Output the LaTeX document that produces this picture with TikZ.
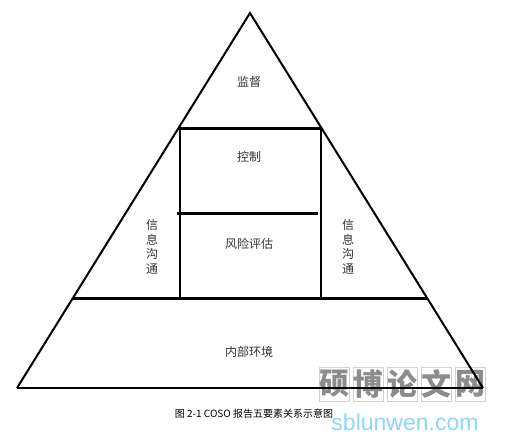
\documentclass[tikz,border=0pt]{standalone}
\usepackage{fontspec}
\setmainfont{Liberation Sans}
\newfontfamily\cjk{Noto Sans CJK SC}
\begin{document}
\begin{tikzpicture}[x=1pt,y=-1pt,
  edge/.style={line width=2pt,black},
  thick edge/.style={line width=3pt,black},
  lbl/.style={font=\cjk\fontsize{12}{14}\selectfont,text=black!80,inner sep=0pt},
  vlbl/.style={font=\cjk\fontsize{12}{14.5}\selectfont,text=black!80,align=center,inner sep=0pt},
  captxt/.style={font=\cjk\fontsize{10}{12}\selectfont,inner sep=0pt},
  wm/.style={font=\cjk\bfseries\fontsize{30}{30}\selectfont,text=black!45,draw=black!18,line width=0.6pt,minimum width=30pt,minimum height=34pt,inner sep=0pt}]
\useasboundingbox (0,0) rectangle (507,440);
% watermark (behind the lines)
\foreach \c [count=\i] in {硕,博,论,文,网}
  \node[wm] (w\i) at ({300+\i*34},384) {\c};
\node[font=\fontsize{23}{23}\selectfont,text=blue!35!cyan!45,inner sep=0pt] (wurl) at (405,422) {sblunwen.com};
% triangle
\coordinate (A) at (250,13);
\coordinate (BL) at (17,388);
\coordinate (BR) at (483,388);
\coordinate (L1) at (178.5,128);
\coordinate (R1) at (321.5,128);
\coordinate (L2) at (73,298);
\coordinate (R2) at (427,298);
\coordinate (M1) at (177,213);
\coordinate (M2) at (318,213);
\coordinate (RT1) at (180,128);
\coordinate (RT2) at (321,128);
\coordinate (RB1) at (180,298);
\coordinate (RB2) at (321,298);
\draw[edge,line join=miter] (BL) -- (A) -- (BR);
\draw[edge] (BL) -- (BR);
\draw[thick edge] (L1) -- (R1);
\draw[thick edge] (L2) -- (R2);
\draw[thick edge] (M1) -- (M2);
\draw[edge] (RT1) -- (RB1);
\draw[edge] (RT2) -- (RB2);
% labels
\node[lbl] (jd) at (249,82) {监督};
\node[lbl] (kz) at (249,157) {控制};
\node[lbl] (fx) at (249,244) {风险评估};
\node[vlbl] (xl) at (152,247) {信\\息\\沟\\通};
\node[vlbl] (xr) at (348,247) {信\\息\\沟\\通};
\node[lbl] (nb) at (249,352) {内部环境};
\node[captxt] (caption) at (254,414) {图 2-1 COSO 报告五要素关系示意图};
\end{tikzpicture}
\end{document}
